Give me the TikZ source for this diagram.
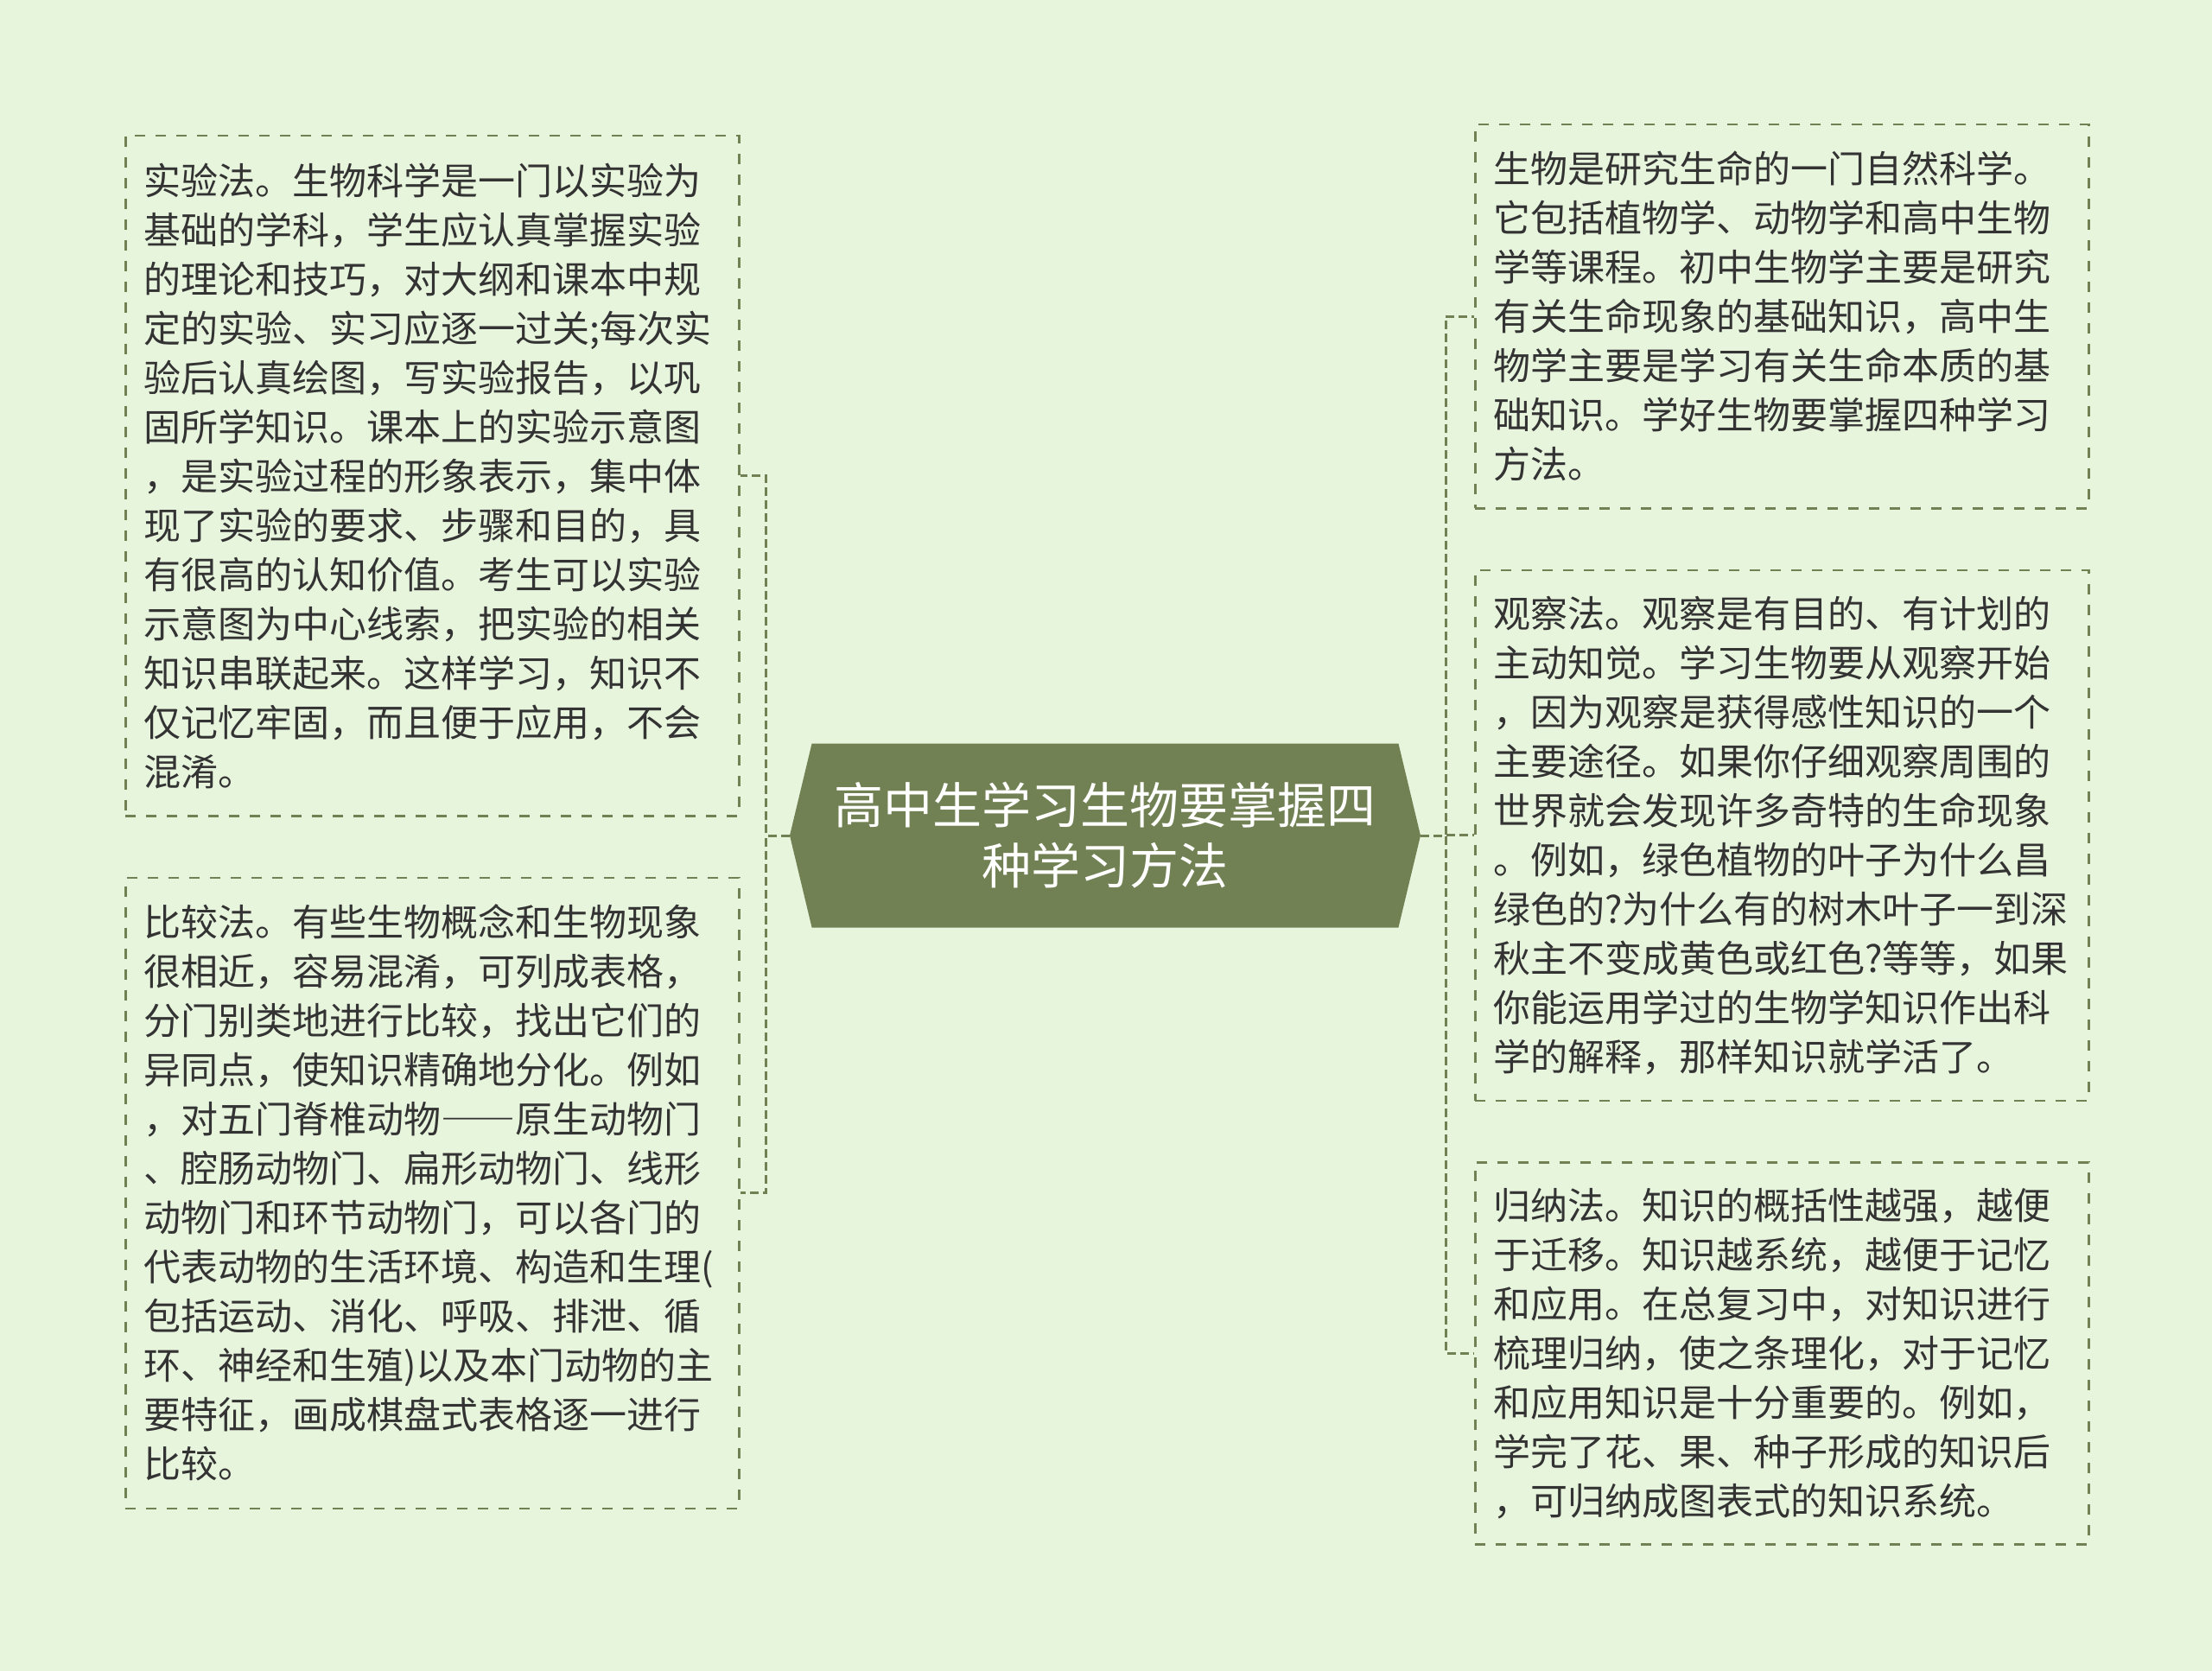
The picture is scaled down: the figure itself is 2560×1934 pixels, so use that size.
\documentclass[tikz,border=0pt]{standalone}
\usepackage{fontspec}
\setmainfont{Noto Sans CJK SC}
\usepackage{xcolor}
\usetikzlibrary{shapes.symbols,positioning}

\definecolor{paper}{RGB}{232,245,221}
\definecolor{moss}{RGB}{113,129,83}
\definecolor{ink}{RGB}{51,51,51}

\newcommand{\fulldash}{{\addfontfeature{CharacterWidth=Full}——}}

\begin{document}
\begin{tikzpicture}[
    x=1pt, y=-1pt,
    node distance=69pt,
    topic/.style={signal, signal to=west and east, signal pointer angle=153, fill=moss, text=white, minimum width=730pt, minimum height=213pt, inner sep=0pt, align=center, font=\fontsize{57pt}{70pt}\selectfont},
    leaf/.style={draw=moss, line width=2.5pt, dash pattern=on 12pt off 12pt, text width=668pt, inner xsep=21pt, inner ysep=0pt, align=left, text=ink, font=\fontsize{43pt}{57pt}\selectfont},
    link/.style={draw=moss, line width=3pt, dash pattern=on 10pt off 5pt}
]

\fill[paper] (0,0) rectangle (2560,1934);

\node[topic] (root) at (1279,967) {高中生学习生物要掌握四\\种学习方法};

\node[leaf, anchor=north west, minimum height=787pt] (exp) at (144,156) {实验法。生物科学是一门以实验为\\基础的学科，学生应认真掌握实验\\的理论和技巧，对大纲和课本中规\\定的实验、实习应逐一过关;每次实\\验后认真绘图，写实验报告，以巩\\固所学知识。课本上的实验示意图\\，是实验过程的形象表示，集中体\\现了实验的要求、步骤和目的，具\\有很高的认知价值。考生可以实验\\示意图为中心线索，把实验的相关\\知识串联起来。这样学习，知识不\\仅记忆牢固，而且便于应用，不会\\混淆。};
\node[leaf, minimum height=730pt, below=of exp] (cmp) {比较法。有些生物概念和生物现象\\很相近，容易混淆，可列成表格，\\分门别类地进行比较，找出它们的\\异同点，使知识精确地分化。例如\\，对五门脊椎动物\fulldash 原生动物门\\、腔肠动物门、扁形动物门、线形\\动物门和环节动物门，可以各门的\\代表动物的生活环境、构造和生理(\\包括运动、消化、呼吸、排泄、循\\环、神经和生殖)以及本门动物的主\\要特征，画成棋盘式表格逐一进行\\比较。};

\node[leaf, anchor=north west, minimum height=444pt] (intro) at (1706,143) {生物是研究生命的一门自然科学。\\它包括植物学、动物学和高中生物\\学等课程。初中生物学主要是研究\\有关生命现象的基础知识，高中生\\物学主要是学习有关生命本质的基\\础知识。学好生物要掌握四种学习\\方法。};
\node[leaf, minimum height=614pt, below=of intro] (obs) {观察法。观察是有目的、有计划的\\主动知觉。学习生物要从观察开始\\，因为观察是获得感性知识的一个\\主要途径。如果你仔细观察周围的\\世界就会发现许多奇特的生命现象\\。例如，绿色植物的叶子为什么昌\\绿色的?为什么有的树木叶子一到深\\秋主不变成黄色或红色?等等，如果\\你能运用学过的生物学知识作出科\\学的解释，那样知识就学活了。};
\node[leaf, minimum height=442pt, below=of obs] (ind) {归纳法。知识的概括性越强，越便\\于迁移。知识越系统，越便于记忆\\和应用。在总复习中，对知识进行\\梳理归纳，使之条理化，对于记忆\\和应用知识是十分重要的。例如，\\学完了花、果、种子形成的知识后\\，可归纳成图表式的知识系统。};

\draw[link] (root.west) -- ++(-27,0) |- (exp.east);
\draw[link] (root.west) -- ++(-27,0) |- (cmp.east);
\draw[link] (root.east) -- ++(29,0) |- (intro.west);
\draw[link] (root.east) -- ++(29,0) |- (obs.west);
\draw[link] (root.east) -- ++(29,0) |- (ind.west);

\end{tikzpicture}
\end{document}
